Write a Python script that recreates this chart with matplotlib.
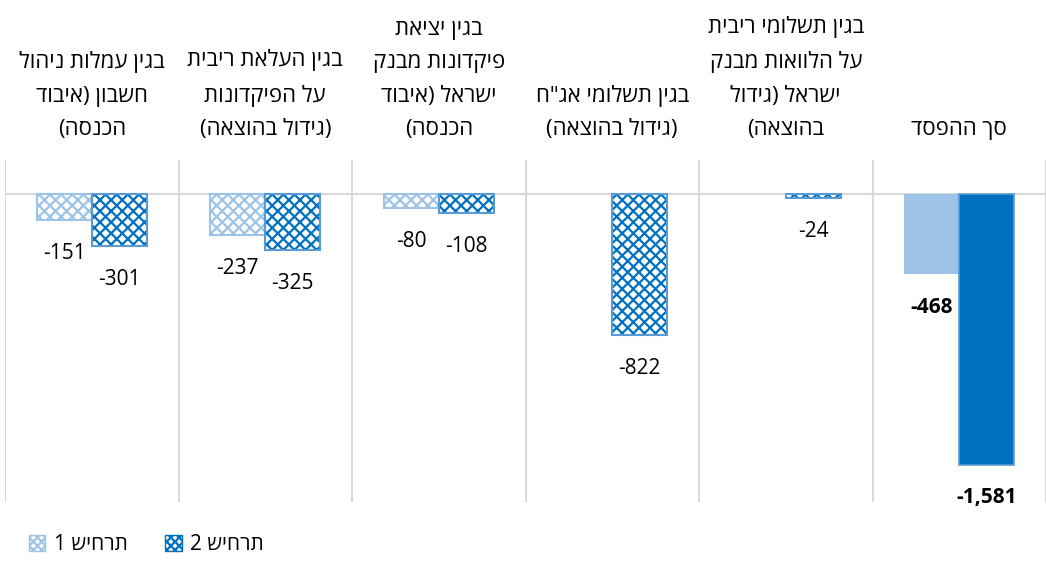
import numpy as np
import matplotlib
matplotlib.use("Agg")
import matplotlib.pyplot as plt
import matplotlib.transforms as mtransforms
from matplotlib.patches import Patch

plt.rcParams['font.family'] = ['Open Sans', 'Liberation Sans', 'DejaVu Sans']
plt.rcParams['hatch.linewidth'] = 1.6

# Data (logical right-to-left order: first = rightmost)
categories = [
    "סך ההפסד",
    "בגין תשלומי ריבית\nעל הלוואות מבנק\nישראל (גידול\nבהוצאה)",
    "בגין תשלומי אג\"ח\n(גידול בהוצאה)",
    "בגין יציאת\nפיקדונות מבנק\nישראל (איבוד\nהכנסה)",
    "בגין העלאת ריבית\nעל הפיקדונות\n(גידול בהוצאה)",
    "בגין עמלות ניהול\nחשבון (איבוד\nהכנסה)",
]
scenario1 = [-468, np.nan, np.nan, -80, -237, -151]
scenario2 = [-1581, -24, -822, -108, -325, -301]
series_names = ["תרחיש 1", "תרחיש 2"]


def vis(s):
    """Convert logical RTL text to visual order for LTR rendering."""
    out = []
    for line in s.split("\n"):
        r = line[::-1]
        r = r.translate(str.maketrans("()", ")("))
        out.append(r)
    return "\n".join(out)


light = "#9DC3E6"
dark = "#0070C0"
dark_edge = "#5B9BD5"
grid_c = "#D9D9D9"
HATCH = "xxx"

fig = plt.figure(figsize=(10.46, 5.62), dpi=100)
ax = fig.add_axes([5 / 1046, 1 - 502 / 562, 1 - 5 / 1046, (502 - 160) / 562])

n = len(categories)
xpos = [n - 1 - i for i in range(n)]  # rightmost = first
w = 0.316

label_offset = mtransforms.ScaledTranslation(0, 20 / 100, fig.dpi_scale_trans)

for i in range(n):
    x = xpos[i]
    v1, v2 = scenario1[i], scenario2[i]
    total = (i == 0)
    if total:
        ax.bar(x - w / 2, v1, w, color=light, edgecolor=light, linewidth=0, zorder=3)
        ax.bar(x + w / 2, v2, w, color=dark, edgecolor=dark_edge, linewidth=1.2, zorder=3)
    else:
        if not np.isnan(v1):
            ax.bar(x - w / 2, v1, w, facecolor="white", edgecolor=light, hatch=HATCH,
                   linewidth=0, zorder=3)
            ax.bar(x - w / 2, v1, w, fill=False, edgecolor=light, linewidth=1.5, zorder=4)
        ax.bar(x + w / 2, v2, w, facecolor="white", edgecolor=dark, hatch=HATCH,
               linewidth=0, zorder=3)
        ax.bar(x + w / 2, v2, w, fill=False, edgecolor=dark_edge, linewidth=1.5, zorder=4)

    for v, off in ((v1, -w / 2), (v2, w / 2)):
        if np.isnan(v):
            continue
        txt = f"{int(v):,}"
        ax.annotate(txt, (x + off, v), xytext=(0, -24), textcoords="offset points",
                    ha="center", va="center", fontsize=15,
                    fontweight="bold" if total else "normal", color="black", zorder=5)

    ax.text(x, 1.0, vis(categories[i]),
            transform=ax.get_xaxis_transform() + label_offset,
            ha="center", va="bottom", fontsize=16, linespacing=1.78,
            multialignment="center")

ax.set_xlim(-0.5, n - 0.5)
ax.set_ylim(-1800, 200)
for b in np.arange(-0.5, n, 1.0):
    ax.axvline(b, color=grid_c, linewidth=1.5, zorder=1)
ax.axhline(0, color=grid_c, linewidth=1.5, zorder=2)
ax.set_xticks([])
ax.set_yticks([])
for s in ax.spines.values():
    s.set_visible(False)

handles = [
    Patch(facecolor="white", edgecolor=light, hatch="xxxx", linewidth=1.0),
    Patch(facecolor="white", edgecolor=dark, hatch="xxxx", linewidth=1.0),
]
fig.legend(handles, [vis(s) for s in series_names], loc="center left",
           bbox_to_anchor=(10 / 1046, 1 - 545 / 562), ncol=2, frameon=False,
           fontsize=15, handlelength=0.8, handleheight=0.8, handletextpad=0.4,
           columnspacing=1.8)

fig.savefig("out.png", dpi=100)
